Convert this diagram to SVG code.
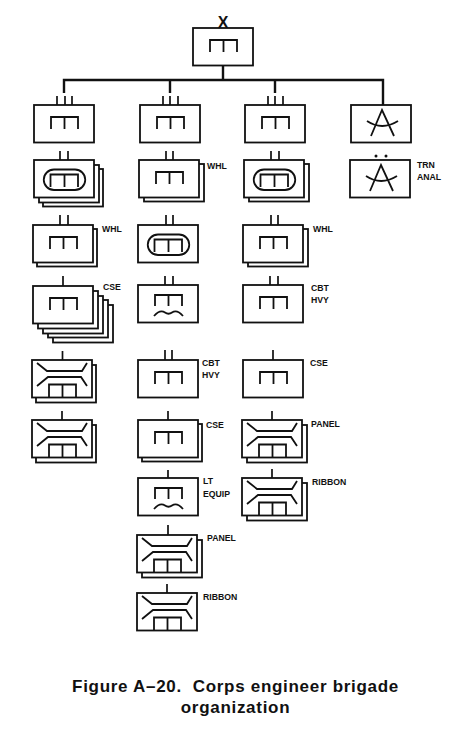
<svg xmlns="http://www.w3.org/2000/svg" width="462" height="751" viewBox="0 0 462 751">
<style>
.l{fill:none;stroke:#111;stroke-width:1.7}
.b{fill:#fff;stroke:#111;stroke-width:1.8}
.g{fill:none;stroke:#111;stroke-width:1.8}
.c{fill:none;stroke:#111;stroke-width:2.400}
.t{font-family:"Liberation Sans",Arial,sans-serif;font-weight:bold;font-size:8.7px;fill:#111}
.h{font-family:"Liberation Sans",Arial,sans-serif;font-weight:bold;font-size:17px;letter-spacing:.7px;fill:#111;text-anchor:middle;white-space:pre}
</style>
<defs>
<rect id="r" class="b" width="60" height="37.5"/>
<path id="m" class="g" d="M17 24V12H44V24M30.500 12V24"/>
<path id="ov" class="g" d="M16.500 27V14.500H44V27M30.500 14.500V27M20 9.500H41A10.200 10.200 0 0 1 41 30H20A10.200 10.200 0 0 1 20 9.500Z"/>
<path id="w" class="g" d="M17 21V10H44V21M30.500 10V21M16 31Q22 24 27 27.500Q30.500 30 34 27.500Q39 24 45 31"/>
<path id="br" class="g" d="M5 3L15 11H50L55 3M5 26L16 17H49L55 26M17 37V24.500H44V37M30.500 24.500V37"/>
<path id="a" class="g" d="M20 31L31 5L43 31M16 16Q31 26 47 16"/>
</defs>
<rect width="462" height="751" fill="#fff"/>
<g id="connectors">
<path class="c" d="M64 93V80H383V105M170 80V93M275 80V93M223 65V80"/>
<path class="l" d="M57 96V105M65 96V105M72 96V105M163 96V105M170 96V105M178 96V105M268 96V105M275 96V105M283 96V105"/>
<path class="l" d="M60 151V160M68 151V160M60 215V225M68 215V225M63 276V286M62.500 351V360M62 411V420"/>
<path class="l" d="M166 151V160M173 151V160M166 215V225M173 215V225M165 276V285M173 276V285M165 350V360M172 350V360M168 411V420M168 470V478M168 525V535M167 584V593"/>
<path class="l" d="M271 151V160M279 151V160M271 215V225M278 215V225M270 276V285M278 276V285M273 350V360M272 411V420M272 469V478"/>
</g>
<g id="hq"><text class="t" x="223" y="28" text-anchor="middle" style="font-size:16px">X</text><g transform="translate(193,28)"><use href="#r"/><use href="#m"/></g></g>
<g id="c1n1" transform="translate(34,105)"><use href="#r"/><use href="#m"/></g>
<g id="c2n1" transform="translate(140,105)"><use href="#r"/><use href="#m"/></g>
<g id="c3n1" transform="translate(245,105)"><use href="#r"/><use href="#m"/></g>
<g id="c4n1" transform="translate(351,105)"><use href="#r"/><use href="#a"/></g>
<g id="c1n2" transform="translate(34,160)"><use href="#r" x="9" y="9"/><use href="#r" x="5" y="5"/><use href="#r"/><use href="#ov"/></g>
<g id="c1n3"><g transform="translate(33,225)"><use href="#r" x="4" y="4"/><use href="#r"/><use href="#m"/></g><text class="t" x="102" y="232">WHL</text></g>
<g id="c1n4"><g transform="translate(33,286)"><use href="#r" x="20" y="19"/><use href="#r" x="15" y="14"/><use href="#r" x="10" y="10"/><use href="#r" x="5" y="5"/><use href="#r"/><use href="#m"/></g><text class="t" x="103" y="290">CSE</text></g>
<g id="c1n5" transform="translate(32,360)"><use href="#r" x="4" y="5"/><use href="#r"/><use href="#br"/></g>
<g id="c1n6" transform="translate(32,420)"><use href="#r" x="4" y="5"/><use href="#r"/><use href="#br"/></g>
<g id="c2n2"><g transform="translate(139,160)"><use href="#r" x="5" y="4"/><use href="#r"/><use href="#m"/></g><text class="t" x="207" y="169">WHL</text></g>
<g id="c2n3" transform="translate(138,225)"><use href="#r"/><use href="#ov"/></g>
<g id="c2n4" transform="translate(138,285)"><use href="#r"/><use href="#w"/></g>
<g id="c2n5"><g transform="translate(138,360)"><use href="#r"/><use href="#m"/></g><text class="t" x="202" y="366">CBT</text><text class="t" x="202" y="378">HVY</text></g>
<g id="c2n6"><g transform="translate(138,420)"><use href="#r" x="4" y="4"/><use href="#r"/><use href="#m"/></g><text class="t" x="206" y="428">CSE</text></g>
<g id="c2n7"><g transform="translate(138,478)"><use href="#r"/><use href="#w"/></g><text class="t" x="203" y="484">LT</text><text class="t" x="203" y="497">EQUIP</text></g>
<g id="c2n8"><g transform="translate(137,535)"><use href="#r" x="5" y="5"/><use href="#r"/><use href="#br"/></g><text class="t" x="207" y="541">PANEL</text></g>
<g id="c2n9"><g transform="translate(137,593)"><use href="#r"/><use href="#br"/></g><text class="t" x="203" y="600">RIBBON</text></g>
<g id="c3n2" transform="translate(244,160)"><use href="#r" x="5" y="4"/><use href="#r"/><use href="#ov"/></g>
<g id="c3n3"><g transform="translate(243,225)"><use href="#r" x="5" y="4"/><use href="#r"/><use href="#m"/></g><text class="t" x="313" y="232">WHL</text></g>
<g id="c3n4"><g transform="translate(243,285)"><use href="#r"/><use href="#m"/></g><text class="t" x="311" y="291">CBT</text><text class="t" x="311" y="303">HVY</text></g>
<g id="c3n5"><g transform="translate(243,360)"><use href="#r"/><use href="#m"/></g><text class="t" x="310" y="366">CSE</text></g>
<g id="c3n6"><g transform="translate(242,420)"><use href="#r" x="5" y="5"/><use href="#r"/><use href="#br"/></g><text class="t" x="311" y="427">PANEL</text></g>
<g id="c3n7"><g transform="translate(242,478)"><use href="#r" x="5" y="5"/><use href="#r"/><use href="#br"/></g><text class="t" x="312" y="485">RIBBON</text></g>
<g id="c4n2"><circle cx="376" cy="156" r="1.500" fill="#111"/><circle cx="386" cy="156" r="1.500" fill="#111"/><g transform="translate(350,160)"><use href="#r"/><use href="#a"/></g><text class="t" x="417" y="168">TRN</text><text class="t" x="417" y="180">ANAL</text></g>
<g id="caption"><text class="h" x="235.500" y="692">Figure A–20.  Corps engineer brigade</text><text class="h" x="235.500" y="713">organization</text></g>
</svg>
